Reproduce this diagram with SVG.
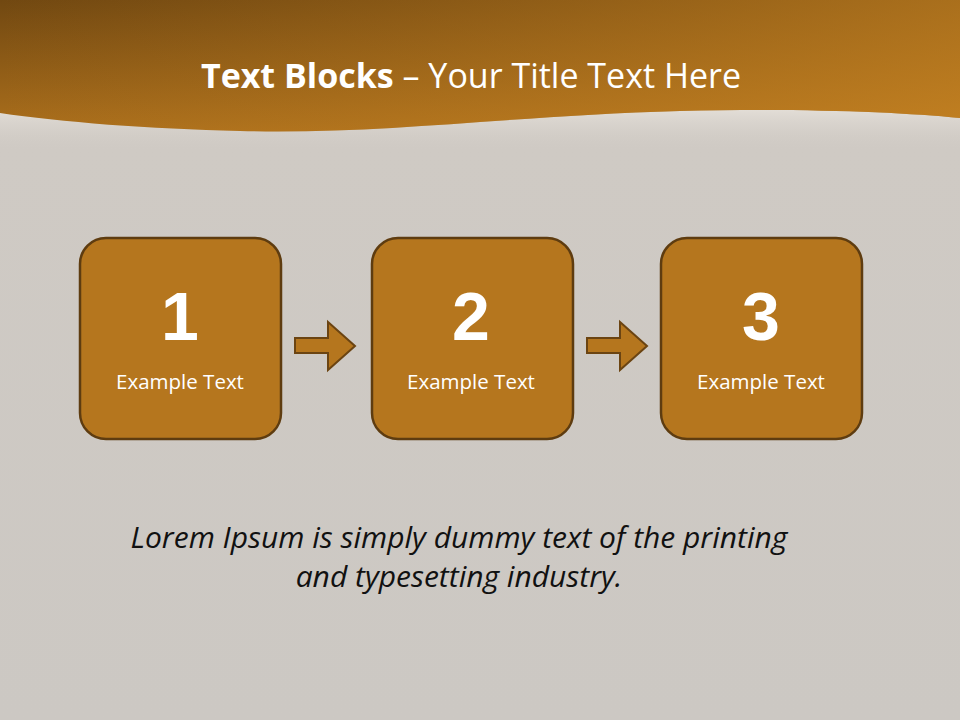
<svg xmlns="http://www.w3.org/2000/svg" width="960" height="720" viewBox="0 0 960 720">
<defs>
<linearGradient id="bg" x1="0" y1="0" x2="0" y2="1">
<stop offset="0" stop-color="#d2cdc7"/>
<stop offset="0.2" stop-color="#cfcac4"/>
<stop offset="1" stop-color="#ccc8c3"/>
</linearGradient>
<linearGradient id="hdrV" gradientUnits="userSpaceOnUse" x1="0" y1="0" x2="0" y2="130">
<stop offset="0" stop-color="#714811"/>
<stop offset="1" stop-color="#ab6f1c"/>
</linearGradient>
<linearGradient id="hdrH" gradientUnits="userSpaceOnUse" x1="0" y1="0" x2="960" y2="0">
<stop offset="0" stop-color="#c98422" stop-opacity="0"/>
<stop offset="1" stop-color="#d08a24" stop-opacity="0.6"/>
</linearGradient>
<linearGradient id="band" x1="0" y1="0" x2="0" y2="1">
<stop offset="0" stop-color="#e2ddd6"/>
<stop offset="1" stop-color="#d2cdc7" stop-opacity="0"/>
</linearGradient>
<style>
.box{fill:#b5761e;stroke:#5e3c10;stroke-width:2.5}
.arrow{fill:#b5761e;stroke:#6b4412;stroke-width:2}
.num{font-family:"Liberation Sans",Arial,sans-serif;font-weight:bold;font-size:68px;fill:#ffffff;text-anchor:middle}
.lbl{font-family:"Open Sans","Noto Sans",sans-serif;font-size:20.5px;fill:#ffffff;text-anchor:middle}
.body{font-family:"Open Sans","Noto Sans",sans-serif;font-style:italic;font-size:30px;fill:#111111;text-anchor:middle}
.title{font-family:"Open Sans","Noto Sans",sans-serif;font-size:34px;fill:#ffffff;text-anchor:middle}
</style>
</defs>
<rect width="960" height="720" fill="url(#bg)"/>
<rect x="0" y="110" width="960" height="40" fill="url(#band)"/>
<path d="M0,0 H960 V118 C900,112 800,108 680,111 C520,115 380,135 240,131 C150,129 60,122 0,113 Z" fill="url(#hdrV)"/>
<path d="M0,0 H960 V118 C900,112 800,108 680,111 C520,115 380,135 240,131 C150,129 60,122 0,113 Z" fill="url(#hdrH)"/>
<g id="title">
<text class="title" x="471" y="88"><tspan font-weight="bold">Text Blocks</tspan> – Your Title Text Here</text>
</g>
<g id="connectors">
<path class="arrow" d="M295,338 H328 V322 L355,346 L328,370 V353 H295 Z"/>
<path class="arrow" d="M587,338 H620 V322 L647,346 L620,370 V353 H587 Z"/>
</g>
<g id="node1">
<rect class="box" x="80" y="238" width="201" height="201" rx="26"/>
<text class="num" x="180" y="340">1</text>
<text class="lbl" x="180" y="389">Example Text</text>
</g>
<g id="node2">
<rect class="box" x="372" y="238" width="201" height="201" rx="26"/>
<text class="num" x="471" y="340">2</text>
<text class="lbl" x="471" y="389">Example Text</text>
</g>
<g id="node3">
<rect class="box" x="661" y="238" width="201" height="201" rx="26"/>
<text class="num" x="761" y="340">3</text>
<text class="lbl" x="761" y="389">Example Text</text>
</g>
<g id="caption">
<text class="body" x="459" y="548">Lorem Ipsum is simply dummy text of the printing</text>
<text class="body" x="459" y="587">and typesetting industry.</text>
</g>
</svg>
